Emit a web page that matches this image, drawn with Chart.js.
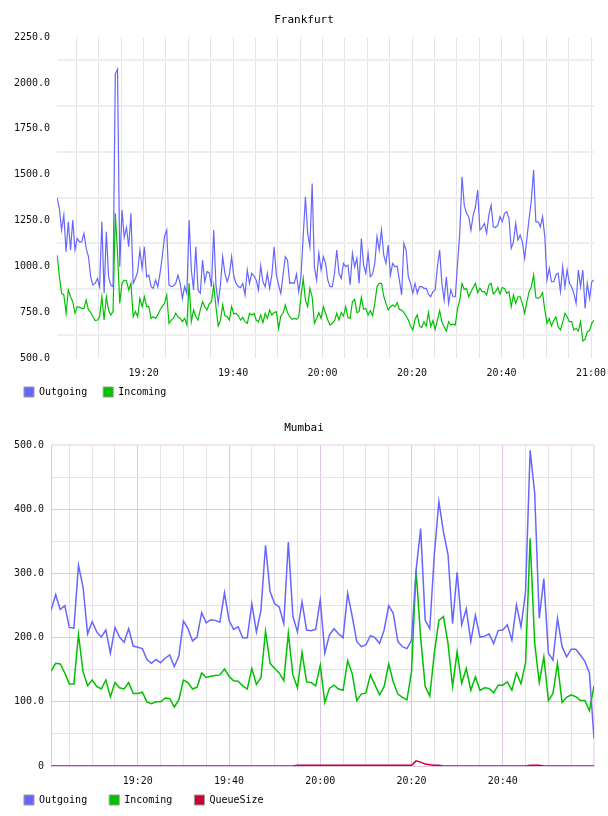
<!DOCTYPE html>
<html>
<head>
<meta charset="utf-8">
<script src="https://cdn.jsdelivr.net/npm/chart.js@4/dist/chart.umd.min.js"></script>
<style>
html,body{margin:0;padding:0;background:#fff;}
#wrap{position:relative;width:608px;height:816px;}
.box{position:absolute;left:0;width:608px;height:408px;}
</style>
</head>
<body>
<div id="wrap">
  <div class="box" style="top:0"><canvas id="c1" width="608" height="408"></canvas></div>
  <div class="box" style="top:408px"><canvas id="c2" width="608" height="408"></canvas></div>
</div>
<script>
// ---------- Frankfurt (samples every 30 s from 19:00:40) ----------
const frankfurtTitle = 'Frankfurt';
const frankfurtStart = '19:00:40';
const frankfurtStepSeconds = 30;
const frankfurtOutgoing = [
  1374,1316,1198,1280,1080,1243,1089,1252,1089,1152,
  1134,1134,1180,1098,1053,943,898,907,934,889,
  1243,853,1189,943,898,889,2050,2075,998,1307,
  1158,1212,1107,1289,907,934,971,1089,989,1107,
  943,952,889,880,925,889,962,1053,1162,1198,
  898,889,893,907,952,907,825,889,853,1252,
  980,871,1107,871,853,1034,916,971,965,889,
  1198,898,798,898,1053,962,916,953,1053,943,
  907,889,885,907,844,980,907,962,947,925,
  871,1002,916,889,962,880,953,1107,953,898,
  853,953,1053,1034,907,911,907,958,862,943,
  1162,1380,1180,1107,1452,998,925,1071,980,1053,
  1016,925,889,889,962,1089,962,934,1016,998,
  1007,898,1071,998,1044,907,1152,1007,962,1071,
  943,958,1016,1162,1089,1198,1062,1016,1116,953,
  1016,998,1002,925,844,1125,1089,943,907,853,
  907,853,889,889,880,880,847,834,862,871,
  998,1089,907,816,943,798,871,834,834,1016,
  1180,1489,1334,1289,1271,1198,1280,1325,1416,1198,
  1212,1234,1180,1280,1334,1216,1212,1225,1271,1243,
  1289,1298,1261,1098,1134,1234,1143,1171,1134,1044,
  1152,1261,1361,1525,1243,1243,1216,1271,1162,925,
  989,916,916,953,962,862,998,889,980,907,
  889,853,798,980,889,980,771,907,825,916,925
];
const frankfurtIncoming = [
  1062,944,853,844,744,871,834,807,744,780,
  776,771,771,816,762,749,725,704,707,725,
  834,707,834,762,735,753,1289,1071,798,907,
  925,922,871,907,725,753,725,825,780,834,
  780,780,716,725,716,735,762,780,798,844,
  689,707,716,744,725,716,698,716,680,907,
  698,762,725,707,762,807,780,762,795,807,
  898,780,675,704,789,731,725,707,780,740,
  744,729,707,722,698,689,744,735,744,707,
  698,735,693,744,716,762,735,747,753,662,
  729,744,789,747,725,711,716,711,722,834,
  934,816,780,880,834,689,716,747,716,780,
  744,707,680,689,704,744,707,749,729,780,
  722,716,807,820,747,753,831,765,771,735,
  758,731,798,889,907,907,838,798,762,780,
  789,780,802,765,762,749,729,707,675,653,
  711,735,675,666,698,675,747,671,704,656,
  707,758,698,671,647,698,680,685,680,771,
  816,907,874,880,834,862,885,907,856,880,
  862,862,844,898,907,849,862,885,849,885,
  880,853,862,780,844,798,834,834,795,744,
  807,862,889,953,831,825,834,856,762,689,
  716,675,704,725,671,653,693,744,725,698,
  698,653,662,647,698,593,602,644,649,689,707
];
const frankfurtYTicks = [500,750,1000,1250,1500,1750,2000,2250];

// ---------- Mumbai (samples every 60 s from 19:01) ----------
const mumbaiTitle = 'Mumbai';
const mumbaiStart = '19:01:00';
const mumbaiStepSeconds = 60;
const mumbaiOutgoing = [
  243,267,244,250,216,215,313,279,206,225,
  209,201,212,176,216,201,193,214,187,185,
  183,166,160,166,161,168,173,155,171,226,
  214,195,201,239,223,228,227,224,270,227,
  213,217,200,200,253,209,243,344,272,253,
  248,222,349,233,209,256,212,211,213,259,
  176,204,214,206,200,269,233,194,186,189,
  203,200,191,212,250,238,194,186,183,196,
  305,370,227,214,330,412,365,330,222,302,
  220,245,194,235,201,202,206,191,211,212,
  220,196,251,217,272,492,425,230,292,176,
  165,230,186,170,182,182,173,163,145,43
];
const mumbaiIncoming = [
  148,160,159,145,128,128,205,147,125,134,
  124,120,134,108,130,122,120,130,113,113,
  115,100,97,100,100,106,105,92,103,134,
  130,120,123,145,138,140,141,142,151,140,
  133,132,125,120,152,127,138,210,160,152,
  145,133,207,142,122,177,131,130,125,157,
  99,121,126,120,118,164,144,102,112,114,
  142,126,111,124,159,131,112,107,103,147,
  305,200,124,109,176,227,233,191,124,178,
  129,152,118,139,118,122,121,114,126,126,
  131,118,145,128,161,355,191,130,170,102,
  113,160,99,107,111,108,102,102,86,125
];
const mumbaiQueueSize = [
  0,0,0,0,0,0,0,0,0,0,
  0,0,0,0,0,0,0,0,0,0,
  0,0,0,0,0,0,0,0,0,0,
  0,0,0,0,0,0,0,0,0,0,
  0,0,0,0,0,0,0,0,0,0,
  0,0,0,0,1,1,1,1,1,1,
  1,1,1,1,1,1,1,1,1,1,
  1,1,1,1,1,1,1,1,1,1,
  8,6,3,2,1,1,0,0,0,0,
  0,0,0,0,0,0,0,0,0,0,
  0,0,0,0,0,1,1,1,0,0,
  0,0,0,0,0,0,0,0,0,0
];
const mumbaiYTicks = [0,100,200,300,400,500];

// ---------- helpers ----------
const MONO = "'DejaVu Sans Mono', 'Liberation Mono', monospace";
const COL_OUT = '#6666ff', COL_IN = '#00c000', COL_Q = '#cc0033';
function toMinutes(s){ const p = s.split(':').map(Number); return p[0]*60 + p[1] + (p[2]||0)/60; }
function fmt(m){ const h = Math.floor(m/60); const mm = Math.round(m - h*60); return h + ':' + String(mm).padStart(2,'0'); }
function points(values, start, stepSec){
  const t0 = toMinutes(start);
  return values.map((v,i) => ({x: t0 + i*stepSec/60, y: v}));
}
function gridMinutes(a, b){ const r=[]; for(let m=Math.ceil(a/5)*5; m<=b+1e-9; m+=5) r.push(m); return r; }
function legendLabels(extraSpaces){
  return function(chart){
    return Chart.defaults.plugins.legend.labels.generateLabels(chart).map(l => Object.assign(l, {
      text: l.text + ' '.repeat(extraSpaces), strokeStyle: '#999999', lineWidth: 1
    }));
  };
}
function lineDs(label, data, color, w){
  return {label, data, borderColor: color, backgroundColor: color, borderWidth: w, pointRadius: 0, tension: 0, fill: false};
}
const Y_PAD = 7, X_PAD = 9, X_AXIS_H = 19;
function fitY(ax){ ax.width = ax.width - Y_PAD; }
function fitX(ax){ ax.height = X_AXIS_H; ax.paddingLeft = 0; ax.paddingRight = 0; }

Chart.defaults.font.family = MONO;

// ---------- Frankfurt chart ----------
const f1min = toMinutes(frankfurtStart);
const f1max = f1min + (frankfurtOutgoing.length-1)*frankfurtStepSeconds/60;

new Chart(document.getElementById('c1'), {
  type: 'line',
  data: {datasets: [
    lineDs('Outgoing', points(frankfurtOutgoing, frankfurtStart, frankfurtStepSeconds), COL_OUT, 1.2),
    lineDs('Incoming', points(frankfurtIncoming, frankfurtStart, frankfurtStepSeconds), COL_IN, 1.2)
  ]},
  options: {
    responsive: false, animation: false,
    layout: {padding: {top: 14, left: 14, right: 14, bottom: 1}},
    plugins: {
      title: {display: true, text: frankfurtTitle, color: '#000', font: {family: MONO, size: 11, weight: 'normal'}, padding: {top: 0, bottom: 10}},
      legend: {position: 'bottom', align: 'start',
        labels: {font: {family: MONO, size: 10}, color: '#000', boxWidth: 10, boxHeight: 10, padding: 10, generateLabels: legendLabels(1)}},
      tooltip: {enabled: false}
    },
    scales: {
      x: {type: 'linear', min: f1min, max: f1max,
        afterBuildTicks: ax => { ax.ticks = gridMinutes(f1min, f1max).map(v => ({value: v})); },
        afterFit: fitX,
        ticks: {autoSkip: false, maxRotation: 0, padding: X_PAD, color: '#111', font: {family: MONO, size: 10},
          callback: v => (Math.round(v) % 20 === 0 ? fmt(v) : '')},
        grid: {color: '#e4e4e4', lineWidth: 1, drawTicks: false},
        border: {display: false}},
      y: {min: frankfurtYTicks[0], max: frankfurtYTicks[frankfurtYTicks.length-1],
        afterBuildTicks: ax => {
          const t = [];
          frankfurtYTicks.forEach((v,i) => { t.push({value: v}); if (i < frankfurtYTicks.length-1) t.push({value: (v + frankfurtYTicks[i+1])/2}); });
          ax.ticks = t;
        },
        afterFit: fitY,
        ticks: {autoSkip: false, padding: Y_PAD, color: '#111', font: {family: MONO, size: 10},
          callback: v => (frankfurtYTicks.includes(v) ? v.toFixed(1) : '')},
        grid: {color: c => (c.tick && frankfurtYTicks.includes(c.tick.value) ? 'rgba(0,0,0,0)' : '#eeeeee'), lineWidth: 2, drawTicks: false},
        border: {display: false}}
    }
  }
});

// ---------- Mumbai chart ----------
const m1min = toMinutes(mumbaiStart);
const m1max = m1min + (mumbaiOutgoing.length-1)*mumbaiStepSeconds/60;
const PURPLE = 'rgb(220,200,226)', GREY = 'rgb(232,226,232)', PINK = 'rgb(242,228,242)';

new Chart(document.getElementById('c2'), {
  type: 'line',
  data: {datasets: [
    lineDs('Outgoing', points(mumbaiOutgoing, mumbaiStart, mumbaiStepSeconds), COL_OUT, 1.5),
    lineDs('Incoming', points(mumbaiIncoming, mumbaiStart, mumbaiStepSeconds), COL_IN, 1.5),
    lineDs('QueueSize', points(mumbaiQueueSize, mumbaiStart, mumbaiStepSeconds), COL_Q, 1.5)
  ]},
  options: {
    responsive: false, animation: false,
    layout: {padding: {top: 14, left: 14, right: 14, bottom: 1}},
    plugins: {
      title: {display: true, text: mumbaiTitle, color: '#000', font: {family: MONO, size: 11, weight: 'normal'}, padding: {top: 0, bottom: 10}},
      legend: {position: 'bottom', align: 'start',
        labels: {font: {family: MONO, size: 10}, color: '#000', boxWidth: 10, boxHeight: 10, padding: 10, generateLabels: legendLabels(2)}},
      tooltip: {enabled: false}
    },
    scales: {
      x: {type: 'linear', min: m1min, max: m1max,
        afterBuildTicks: ax => { ax.ticks = gridMinutes(m1min, m1max).map(v => ({value: v})); },
        afterFit: fitX,
        ticks: {autoSkip: false, maxRotation: 0, padding: X_PAD, color: '#111', font: {family: MONO, size: 10},
          callback: v => (Math.round(v) % 20 === 0 && v < m1max - 1 ? fmt(v) : '')},
        grid: {drawTicks: false,
          color: c => { const v = c.tick ? Math.round(c.tick.value) : 0; if (Math.abs(v - m1max) < 0.01) return PINK; return v % 20 === 0 ? PURPLE : GREY; },
          lineWidth: c => (c.tick && Math.abs(c.tick.value - m1max) < 0.01 ? 2 : 1)},
        border: {display: true, color: PURPLE, width: 1}},
      y: {min: mumbaiYTicks[0], max: mumbaiYTicks[mumbaiYTicks.length-1],
        afterBuildTicks: ax => {
          const t = [];
          mumbaiYTicks.forEach((v,i) => { t.push({value: v}); if (i < mumbaiYTicks.length-1) t.push({value: (v + mumbaiYTicks[i+1])/2}); });
          ax.ticks = t;
        },
        afterFit: fitY,
        ticks: {autoSkip: false, padding: Y_PAD, color: '#111', font: {family: MONO, size: 10},
          callback: v => (mumbaiYTicks.includes(v) ? (v === 0 ? '0' : v.toFixed(1)) : '')},
        grid: {drawTicks: false,
          color: c => { const v = c.tick ? c.tick.value : 0; if (v === 500) return PINK; return mumbaiYTicks.includes(v) ? PURPLE : GREY; },
          lineWidth: c => (c.tick && c.tick.value === 500 ? 2 : 1)},
        border: {display: true, color: PURPLE, width: 1}}
    }
  }
});
</script>
</body>
</html>
